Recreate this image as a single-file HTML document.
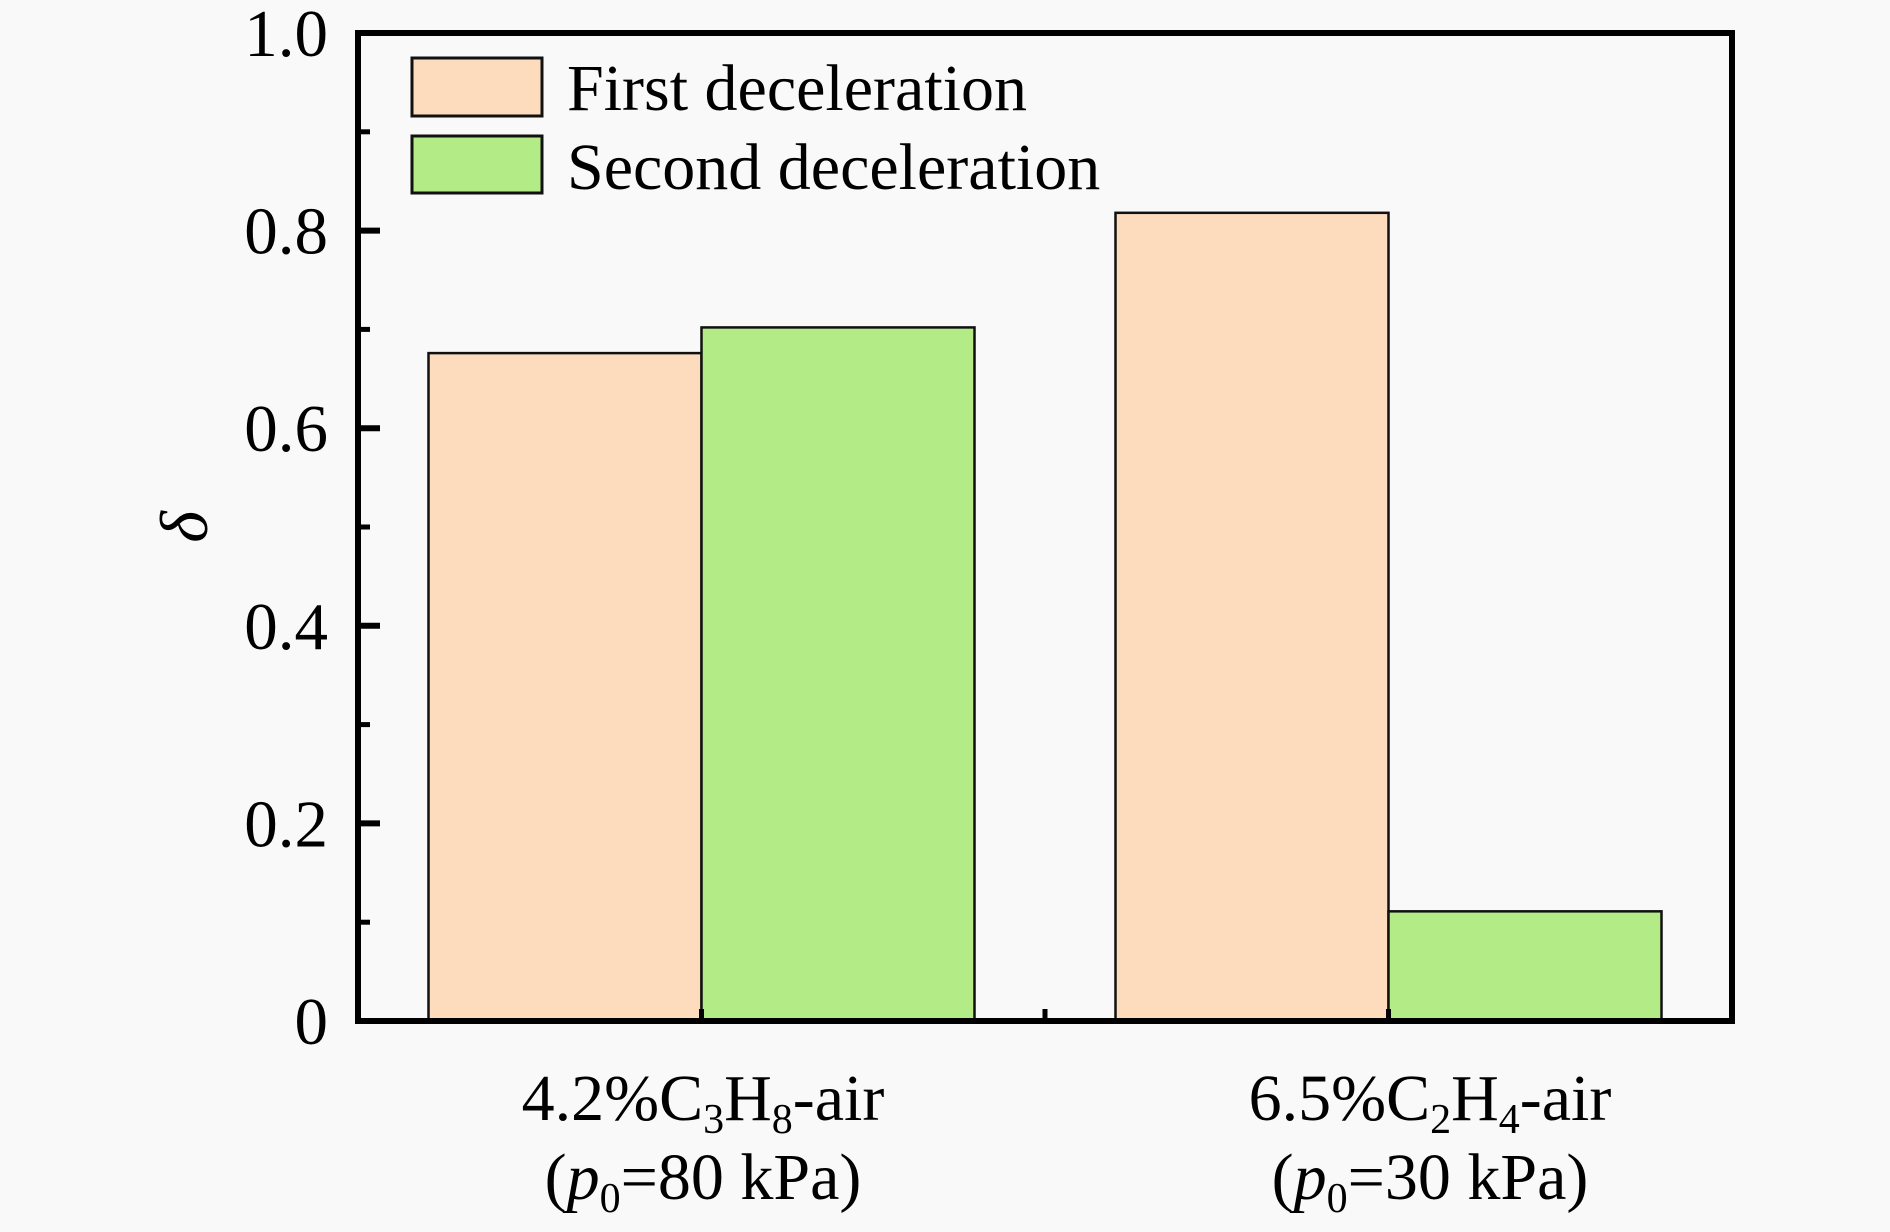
<!DOCTYPE html>
<html><head><meta charset="utf-8"><style>
body{margin:0;background:#f9f9f9}
svg{display:block;font-family:"Liberation Serif",serif}
</style></head><body>
<svg id="chart" width="1890" height="1232" viewBox="0 0 1890 1232">
<rect width="1890" height="1232" fill="#f9f9f9"/>
<g id="bars"></g>
<g id="axes"></g>
<text transform="translate(207,527) rotate(-90)" font-size="68" font-style="italic" text-anchor="middle">δ</text>
<g>
<rect x="412" y="58" width="130" height="58" fill="#fddcbe" stroke="#111" stroke-width="3"/>
<text x="567" y="110" font-size="66">First deceleration</text>
<rect x="412" y="136" width="130" height="57" fill="#b3ec87" stroke="#111" stroke-width="3"/>
<text x="567" y="189" font-size="66">Second deceleration</text>
</g>
<g font-size="66" text-anchor="middle">
<text x="703" y="1120">4.2%C<tspan font-size="42" dy="13">3</tspan><tspan dy="-13">H</tspan><tspan font-size="42" dy="13">8</tspan><tspan dy="-13">-air</tspan></text>
<text x="703" y="1199">(<tspan font-style="italic">p</tspan><tspan font-size="42" dy="13">0</tspan><tspan dy="-13">=80 kPa)</tspan></text>
<text x="1430" y="1120">6.5%C<tspan font-size="42" dy="13">2</tspan><tspan dy="-13">H</tspan><tspan font-size="42" dy="13">4</tspan><tspan dy="-13">-air</tspan></text>
<text x="1430" y="1199">(<tspan font-style="italic">p</tspan><tspan font-size="42" dy="13">0</tspan><tspan dy="-13">=30 kPa)</tspan></text>
</g>
</svg>
<script>
const categories = ["4.2%C3H8-air", "6.5%C2H4-air"];
const firstDecel = [0.676, 0.818];
const secondDecel = [0.702, 0.111];
const yTicks = [0, 0.2, 0.4, 0.6, 0.8, 1.0];
const yTickLabels = ["0", "0.2", "0.4", "0.6", "0.8", "1.0"];

const NS = "http://www.w3.org/2000/svg";
const L = 358, R = 1732, T = 33, B = 1021;
function y(v){ return B - (B - T) * v; }
const band = (R - L) / categories.length;
function xc(i){ return L + band * (i + 0.5); }
const bw = 273;
function mk(tag, attrs, parent){
  const e = document.createElementNS(NS, tag);
  for (const k in attrs) e.setAttribute(k, attrs[k]);
  parent.appendChild(e);
  return e;
}
const bars = document.getElementById("bars");
categories.forEach((c, i) => {
  const a = mk("rect", {x: xc(i) - bw, y: y(firstDecel[i]), width: bw, height: B - y(firstDecel[i]), fill: "#fddcbe", stroke: "#111", "stroke-width": 2.5}, bars);
  
  
  const b = mk("rect", {x: xc(i), y: y(secondDecel[i]), width: bw, height: B - y(secondDecel[i]), fill: "#b3ec87", stroke: "#111", "stroke-width": 2.5}, bars);
  
  
});
const axes = document.getElementById("axes");
const frame = mk("rect", {x: L, y: T, width: R - L, height: B - T, fill: "none", stroke: "#000", "stroke-width": 6}, axes);


for (let k = 0; k <= 10; k++){
  const v = k / 10;
  const major = k % 2 === 0;
  const t = mk("line", {x1: L, x2: L + (major ? 22 : 12), y1: y(v), y2: y(v), stroke: "#000", "stroke-width": major ? 6 : 5}, axes);
  
  
}
yTicks.forEach((v, i) => {
  const t = mk("text", {x: 328, y: y(v) + 23, "font-size": 67, "text-anchor": "end"}, axes);
  t.textContent = yTickLabels[i];
  
  
});
[xc(0), L + band, xc(1)].forEach(xx => {
  const t = mk("line", {x1: xx, x2: xx, y1: B, y2: B - 12, stroke: "#000", "stroke-width": 5}, axes);
  
  
});
</script>
</body></html>
